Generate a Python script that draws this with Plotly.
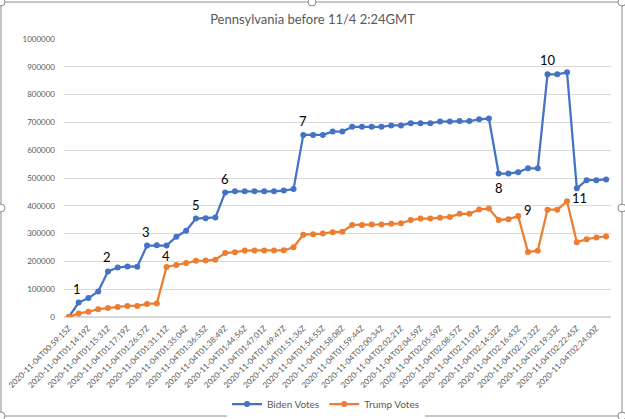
import plotly.graph_objects as go

tick_labels = [
    "2020-11-04T00:59:15Z", "2020-11-04T01:14:19Z", "2020-11-04T01:15:31Z", "2020-11-04T01:17:19Z",
    "2020-11-04T01:26:57Z", "2020-11-04T01:31:11Z", "2020-11-04T01:35:04Z", "2020-11-04T01:36:55Z",
    "2020-11-04T01:38:49Z", "2020-11-04T01:44:56Z", "2020-11-04T01:47:01Z", "2020-11-04T01:49:47Z",
    "2020-11-04T01:51:36Z", "2020-11-04T01:54:55Z", "2020-11-04T01:58:08Z", "2020-11-04T01:59:44Z",
    "2020-11-04T02:00:34Z", "2020-11-04T02:02:21Z", "2020-11-04T02:04:59Z", "2020-11-04T02:05:59Z",
    "2020-11-04T02:08:57Z", "2020-11-04T02:11:01Z", "2020-11-04T02:14:32Z", "2020-11-04T02:16:43Z",
    "2020-11-04T02:17:32Z", "2020-11-04T02:19:33Z", "2020-11-04T02:22:45Z", "2020-11-04T02:24:00Z",
]

biden_votes = [
    0, 52000, 68000, 92000, 164000, 178000, 182000, 181000,
    257000, 258000, 257000, 289000, 310000, 354000, 355000, 358000,
    448000, 452000, 452000, 452000, 452000, 452000, 455000, 460000,
    655000, 655000, 655000, 667000, 667000, 684000, 684000, 684000,
    684000, 689000, 689000, 697000, 697000, 697000, 703000, 703000,
    705000, 705000, 711000, 714000, 516000, 516000, 521000, 535000,
    535000, 873000, 873000, 880000, 463000, 492000, 492000, 495000,
]

trump_votes = [
    0, 13000, 19000, 28000, 32000, 36000, 40000, 40000,
    47000, 49000, 180000, 187000, 194000, 202000, 203000, 206000,
    230000, 233000, 239000, 239000, 239000, 239000, 240000, 251000,
    296000, 298000, 300000, 305000, 307000, 331000, 331000, 333000,
    333000, 335000, 337000, 349000, 354000, 354000, 357000, 360000,
    371000, 371000, 387000, 390000, 349000, 352000, 363000, 234000,
    238000, 386000, 386000, 416000, 269000, 280000, 286000, 290000,
]

# callout numbers: (label, series, point index)
callout_labels = ["1", "2", "3", "4", "5", "6", "7", "8", "9", "10", "11"]
callout_series = ["B", "B", "B", "T", "B", "B", "B", "B", "T", "B", "T"]
callout_points = [1, 4, 8, 10, 13, 16, 24, 44, 47, 49, 51]
callout_shift = [(-2, 14), (-1, 14), (-1, 14), (-1, 11), (0, 14), (0, 13), (0, 14), (0, -14), (0, 42), (0, 14), (12, 3)]

idx = list(range(len(biden_votes)))
BLUE = "#4472C4"
ORANGE = "#ED7D31"
GRAY = "#595959"

fig = go.Figure()
fig.add_trace(go.Scatter(x=idx, y=biden_votes, mode="lines+markers", name="Biden Votes",
                         line=dict(color=BLUE, width=2.25), marker=dict(color=BLUE, size=6)))
fig.add_trace(go.Scatter(x=idx, y=trump_votes, mode="lines+markers", name="Trump Votes",
                         line=dict(color=ORANGE, width=2.25), marker=dict(color=ORANGE, size=6)))

for lab, ser, p, (dx, dy) in zip(callout_labels, callout_series, callout_points, callout_shift):
    yv = biden_votes[p] if ser == "B" else trump_votes[p]
    fig.add_annotation(x=p, y=yv, text=lab, showarrow=False, xshift=dx, yshift=dy,
                       font=dict(family="Lato", size=13, color="#000000"))

L, R, T, B = 64, 14, 39, 102
W, H = 625, 419
pw, ph = W - L - R, H - T - B

def px(xp):
    return (xp - L) / pw

def py(yp):
    return (H - B - yp) / ph

# chart frame
fig.add_shape(type="rect", xref="paper", yref="paper", x0=px(1), x1=px(622), y0=py(416), y1=py(2),
              line=dict(color="#8c8c8c", width=1), fillcolor="rgba(0,0,0,0)", layer="below")
for hx, hy in [(1, 2), (312, 2), (622, 2), (1, 208), (622, 208), (1, 416), (312, 416), (622, 416)]:
    fig.add_shape(type="circle", xref="paper", yref="paper",
                  x0=px(hx - 4), x1=px(hx + 4), y0=py(hy + 4), y1=py(hy - 4),
                  line=dict(color="#8c8c8c", width=1), fillcolor="white")

fig.update_layout(
    width=W, height=H,
    margin=dict(l=L, r=R, t=T, b=B, autoexpand=False),
    paper_bgcolor="white", plot_bgcolor="white",
    title=dict(text="Pennsylvania before 11/4 2:24GMT", x=0.5, xref="container", xanchor="center",
               y=1 - 19 / H, yanchor="middle", font=dict(family="Lato", size=13, color=GRAY)),
    showlegend=True,
    legend=dict(orientation="h", x=px(326), xanchor="center", y=py(404), yanchor="middle",
                font=dict(family="Lato", size=10, color=GRAY), itemwidth=30, tracegroupgap=0),
    xaxis=dict(range=[-0.5, len(idx) - 0.5], tickmode="array",
               tickvals=idx[::2], ticktext=tick_labels, tickangle=-45,
               showgrid=False, zeroline=False, showline=False, ticks="", ticklabelstandoff=4,
               automargin=False, tickfont=dict(family="Lato", size=8, color=GRAY)),
    yaxis=dict(range=[0, 1000000], dtick=100000, tickformat="d", showgrid=True,
               gridcolor="#d9d9d9", gridwidth=1, zeroline=True, zerolinecolor="#d9d9d9",
               showline=False, ticks="", ticklabelstandoff=8, automargin=False,
               tickfont=dict(family="Lato", size=8, color=GRAY)),
)

fig.write_html("out.html", config={"displayModeBar": False},
               post_script="document.body.style.margin='0';")
